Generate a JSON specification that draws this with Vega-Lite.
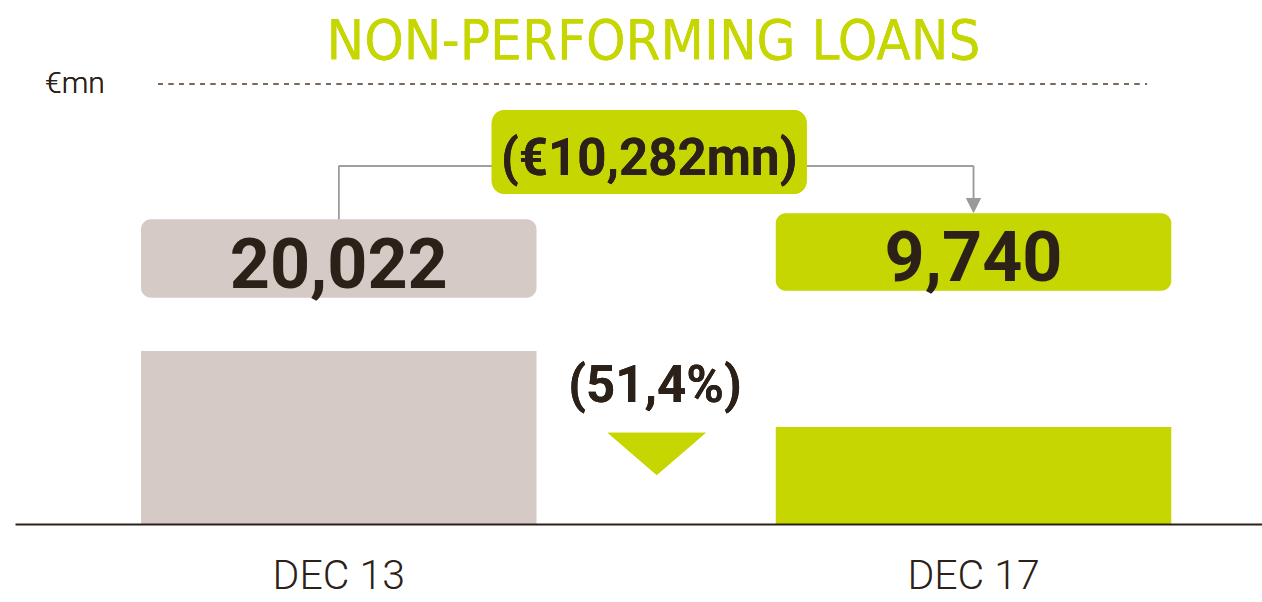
{
  "$schema": "https://vega.github.io/schema/vega-lite/v6.json",
  "width": 1247,
  "height": 524,
  "autosize": {"type": "none"},
  "padding": {"left": 15, "top": 0, "right": 0, "bottom": 78},
  "background": "#ffffff",
  "config": {"view": {"stroke": null}},
  "data": {"values": [
    {"period": "DEC 13", "npl": 20022},
    {"period": "DEC 17", "npl": 9740}
  ]},
  "encoding": {
    "x": {
      "field": "period", "type": "nominal",
      "scale": {"type": "band", "domain": ["DEC 13", "DEC 17"], "paddingInner": 0.3769, "paddingOuter": 0.1707, "align": 0.5814},
      "axis": {"title": null, "orient": "bottom", "domainColor": "#2b2118", "domainWidth": 2, "ticks": false, "labelAngle": 0, "labelFont": "Roboto", "labelFontWeight": 300, "labelFontSize": 41, "labelColor": "#2b2118", "labelBaseline": "alphabetic", "labelPadding": 64, "zindex": 1}
    }
  },
  "layer": [
    {
      "mark": {"type": "bar"},
      "encoding": {
        "y": {"field": "npl", "type": "quantitative", "scale": {"domain": [-3400, 67500], "nice": false, "zero": false}, "axis": null},
        "y2": {"datum": -3400},
        "color": {"field": "period", "type": "nominal", "scale": {"domain": ["DEC 13", "DEC 17"], "range": ["#d5cac5", "#c6d600"]}, "legend": null}
      }
    },
    {
      "transform": [{"filter": "datum.period === 'DEC 13'"}],
      "mark": {"type": "rect", "cornerRadius": 10},
      "encoding": {
        "y": {"datum": 37827, "type": "quantitative"},
        "y2": {"datum": 27220},
        "color": {"field": "period", "type": "nominal", "legend": null}
      }
    },
    {
      "transform": [{"filter": "datum.period === 'DEC 17'"}],
      "mark": {"type": "rect", "cornerRadius": 10},
      "encoding": {
        "y": {"datum": 38639, "type": "quantitative"},
        "y2": {"datum": 28167},
        "color": {"field": "period", "type": "nominal", "legend": null}
      }
    },
    {
      "transform": [{"filter": "datum.period === 'DEC 13'"}],
      "mark": {"type": "text", "font": "Roboto", "fontWeight": "bold", "fontSize": 70, "color": "#2b2118", "baseline": "alphabetic", "align": "center"},
      "encoding": {
        "y": {"datum": 28532, "type": "quantitative"},
        "text": {"field": "npl", "type": "quantitative", "format": ",d"}
      }
    },
    {
      "transform": [{"filter": "datum.period === 'DEC 17'"}],
      "mark": {"type": "text", "font": "Roboto", "fontWeight": "bold", "fontSize": 70, "color": "#2b2118", "baseline": "alphabetic", "align": "center"},
      "encoding": {
        "y": {"datum": 29479, "type": "quantitative"},
        "text": {"field": "npl", "type": "quantitative", "format": ",d"}
      }
    },
    {
      "mark": {"type": "rule", "color": "#9a9a9a", "strokeWidth": 1.5},
      "encoding": {
        "x": {"datum": "DEC 13"},
        "y": {"datum": 37827, "type": "quantitative"},
        "y2": {"datum": 45039}
      }
    },
    {
      "mark": {"type": "rule", "color": "#9a9a9a", "strokeWidth": 1.5},
      "encoding": {
        "x": {"datum": "DEC 13"},
        "x2": {"datum": "DEC 17"},
        "y": {"datum": 45039, "type": "quantitative"}
      }
    },
    {
      "mark": {"type": "rule", "color": "#9a9a9a", "strokeWidth": 1.5},
      "encoding": {
        "x": {"datum": "DEC 17"},
        "y": {"datum": 45039, "type": "quantitative"},
        "y2": {"datum": 40574}
      }
    },
    {
      "mark": {"type": "point", "shape": "M-1,-1L1,-1L0,1Z", "filled": true, "color": "#9a9a9a", "opacity": 1, "size": 225},
      "encoding": {
        "x": {"datum": "DEC 17"},
        "y": {"datum": 39695, "type": "quantitative"}
      }
    },
    {
      "mark": {"type": "rect", "cornerRadius": 13, "color": "#c6d600"},
      "encoding": {
        "x": {"datum": "DEC 13", "bandPosition": 0.8867},
        "x2": {"datum": "DEC 13", "bandPosition": 1.6832},
        "y": {"datum": 52616, "type": "quantitative"},
        "y2": {"datum": 41251}
      }
    },
    {
      "mark": {"type": "text", "font": "Roboto", "fontWeight": "bold", "fontSize": 51, "color": "#2b2118", "baseline": "alphabetic", "align": "center"},
      "encoding": {
        "x": {"datum": "DEC 13", "bandPosition": 1.285},
        "y": {"datum": 43821, "type": "quantitative"},
        "text": {"value": "(€10,282mn)"}
      }
    },
    {
      "mark": {"type": "text", "font": "Roboto", "fontWeight": "bold", "fontSize": 51, "color": "#2b2118", "baseline": "alphabetic", "align": "center"},
      "encoding": {
        "x": {"datum": "DEC 13", "bandPosition": 1.2996},
        "y": {"datum": 13107, "type": "quantitative"},
        "text": {"value": "(51,4%)"}
      }
    },
    {
      "mark": {"type": "point", "shape": "M-1,-0.43L1,-0.43L0,0.43Z", "filled": true, "color": "#c6d600", "opacity": 1, "size": 9604},
      "encoding": {
        "x": {"datum": "DEC 13", "bandPosition": 1.3039},
        "y": {"datum": 6085, "type": "quantitative"}
      }
    },
    {
      "mark": {"type": "rule", "color": "#7b6a58", "strokeWidth": 2, "strokeDash": [5, 5.5]},
      "encoding": {
        "x": {"datum": "DEC 13", "bandPosition": 0.043},
        "x2": {"datum": "DEC 17", "bandPosition": 0.9388},
        "y": {"datum": 56134, "type": "quantitative"}
      }
    },
    {
      "mark": {"type": "text", "font": "Roboto", "fontWeight": 300, "fontSize": 30, "color": "#2b2118", "baseline": "alphabetic", "align": "left"},
      "encoding": {
        "x": {"datum": "DEC 13", "bandPosition": -0.2427},
        "y": {"datum": 54916, "type": "quantitative"},
        "text": {"value": "€mn"}
      }
    },
    {
      "mark": {"type": "text", "font": "DejaVu Sans Condensed", "fontWeight": "normal", "fontSize": 56, "color": "#c6d600", "baseline": "alphabetic", "align": "center"},
      "encoding": {
        "x": {"datum": "DEC 13", "bandPosition": 1.2958},
        "y": {"datum": 59517, "type": "quantitative"},
        "text": {"value": "NON-PERFORMING LOANS"}
      }
    }
  ]
}
